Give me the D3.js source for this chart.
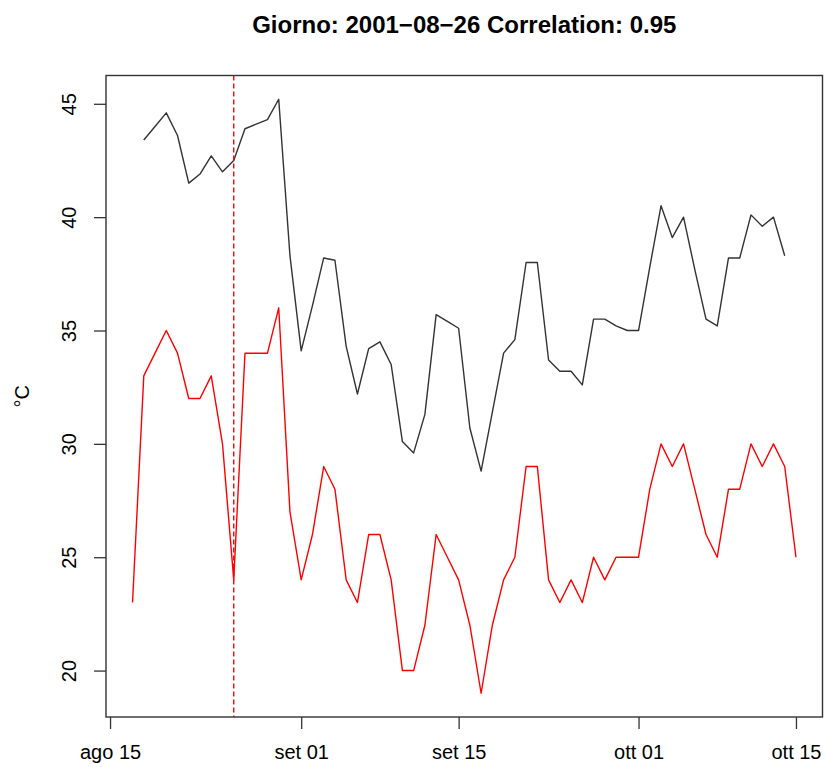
<!DOCTYPE html>
<html>
<head>
<meta charset="utf-8">
<script src="https://cdn.jsdelivr.net/npm/d3@7"></script>
<style>
  body { margin: 0; background: #fff; }
  svg { display: block; font-family: "Liberation Sans", Arial, Helvetica, sans-serif; }
</style>
</head>
<body>
<svg id="chart" width="826" height="767"></svg>
<script>
// Daily temperatures (°C)
const redStart = "2001-08-17";
const redValues = [
  23, 33, 34, 35, 34, 32, 32, 33, 30, 24, 34, 34, 34, 36, 27,
  24, 26, 29, 28, 24, 23, 26, 26, 24, 20, 20, 22, 26, 25, 24,
  22, 19, 22, 24, 25, 29, 29, 24, 23, 24, 23, 25, 24, 25, 25,
  25, 28, 30, 29, 30, 28, 26, 25, 28, 28, 30, 29, 30, 29, 25
];
const blackStart = "2001-08-18";
const blackValues = [
  43.4, 44.0, 44.6, 43.6, 41.5, 41.9, 42.7, 42.0, 42.5, 43.9, 44.1, 44.3, 45.2, 38.3,
  34.1, 36.1, 38.2, 38.1, 34.3, 32.2, 34.2, 34.5, 33.5, 30.1, 29.6, 31.3, 35.7, 35.4, 35.1,
  30.7, 28.8, 31.4, 34.0, 34.6, 38.0, 38.0, 33.7, 33.2, 33.2, 32.6, 35.5, 35.5, 35.2, 35.0,
  35.0, 37.8, 40.5, 39.1, 40.0, 37.7, 35.5, 35.2, 38.2, 38.2, 40.1, 39.6, 40.0, 38.3
];
const markerDay = "2001-08-26";
const xTickDates = ["2001-08-15", "2001-09-01", "2001-09-15", "2001-10-01", "2001-10-15"];
const xTickLabels = ["ago 15", "set 01", "set 15", "ott 01", "ott 15"];
const yTicks = [20, 25, 30, 35, 40, 45];
const titleText = "Giorno: 2001\u221208\u221226 Correlation: 0.95";
const yLabel = "°C";

const parse = d3.utcParse("%Y-%m-%d");
const toSeries = (start, vals) => vals.map((v, i) => ({ date: d3.utcDay.offset(parse(start), i), value: v }));
const red = toSeries(redStart, redValues);
const black = toSeries(blackStart, blackValues);

const plot = { left: 106, right: 822.5, top: 75.5, bottom: 717 };

// R-style 4% padding of the data range
function padded(ext) {
  const d = (ext[1] - ext[0]) * 0.04;
  return [ext[0] - d, ext[1] + d];
}
const allDates = red.concat(black).map(d => +d.date);
const allVals = red.concat(black).map(d => d.value);
const xDom = padded(d3.extent(allDates)).map(t => new Date(t));
const yDom = padded(d3.extent(allVals));

const x = d3.scaleUtc().domain(xDom).range([plot.left, plot.right]);
const y = d3.scaleLinear().domain(yDom).range([plot.bottom, plot.top]);

const svg = d3.select("#chart");

// title
svg.append("text")
  .attr("x", (plot.left + plot.right) / 2)
  .attr("y", 33)
  .attr("text-anchor", "middle")
  .style("font-size", "24px")
  .style("font-weight", "bold")
  .attr("fill", "#000")
  .text(titleText);

// lines
const line = d3.line().x(d => x(d.date)).y(d => y(d.value));
svg.append("path").datum(black)
  .attr("d", line).attr("fill", "none")
  .attr("stroke", "#333").attr("stroke-width", 1.4).attr("stroke-linejoin", "round");
svg.append("path").datum(red)
  .attr("d", line).attr("fill", "none")
  .attr("stroke", "#ff0000").attr("stroke-width", 1.4).attr("stroke-linejoin", "round");

// vertical marker
svg.append("line")
  .attr("x1", x(parse(markerDay))).attr("x2", x(parse(markerDay)))
  .attr("y1", plot.top).attr("y2", plot.bottom)
  .attr("stroke", "#ff0000").attr("stroke-width", 1.4)
  .attr("stroke-dasharray", "5,3");

// axes
const xAxis = d3.axisBottom(x)
  .tickValues(xTickDates.map(parse))
  .tickFormat((d, i) => xTickLabels[i])
  .tickSizeInner(12).tickSizeOuter(0).tickPadding(16);
const gx = svg.append("g").attr("transform", `translate(0,${plot.bottom})`).call(xAxis);
gx.select(".domain").remove();
gx.selectAll("line").attr("stroke", "#333").attr("stroke-width", 1.3);
gx.selectAll("text").style("font-size", "20px").attr("fill", "#000");

const yAxis = d3.axisLeft(y).tickValues(yTicks).tickSizeInner(12).tickSizeOuter(0).tickPadding(0);
const gy = svg.append("g").attr("transform", `translate(${plot.left},0)`).call(yAxis);
gy.select(".domain").remove();
gy.selectAll("line").attr("stroke", "#333").attr("stroke-width", 1.3);
gy.selectAll("text")
  .style("font-size", "20px").attr("fill", "#000")
  .attr("x", null).attr("dy", null)
  .attr("text-anchor", "middle")
  .attr("transform", "translate(-30,0) rotate(-90)");

// y label
svg.append("text")
  .attr("transform", `translate(29,${(plot.top + plot.bottom) / 2}) rotate(-90)`)
  .attr("text-anchor", "middle")
  .style("font-size", "20px")
  .attr("fill", "#000")
  .text(yLabel);

// frame
svg.append("rect")
  .attr("x", plot.left).attr("y", plot.top)
  .attr("width", plot.right - plot.left).attr("height", plot.bottom - plot.top)
  .attr("fill", "none").attr("stroke", "#333").attr("stroke-width", 1.4);
</script>
</body>
</html>
